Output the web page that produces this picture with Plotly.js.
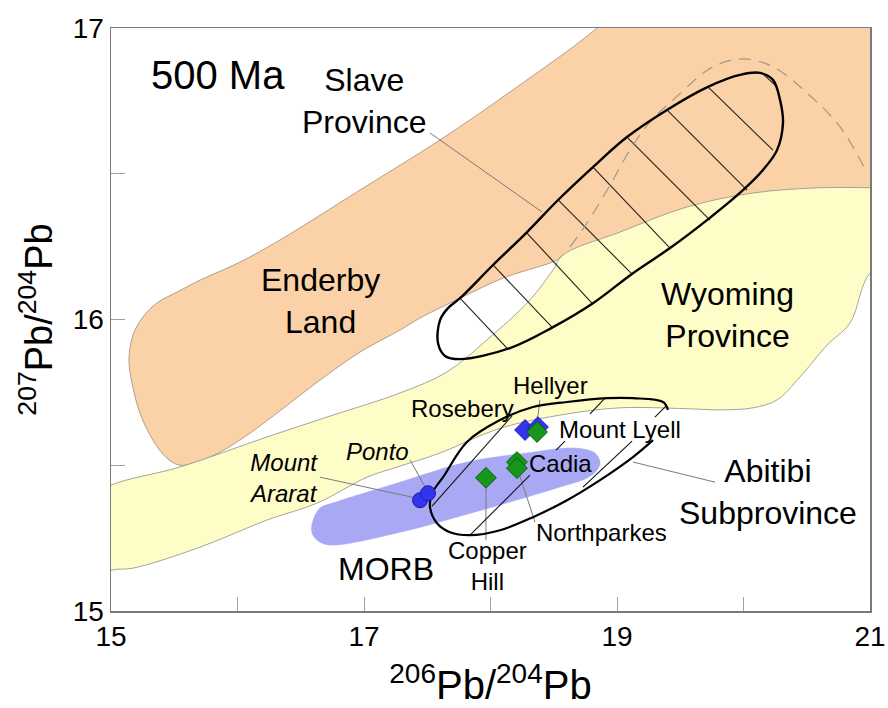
<!DOCTYPE html>
<html>
<head>
<meta charset="utf-8">
<script src="https://cdn.plot.ly/plotly-3.0.1.min.js"></script>
<style>html,body{margin:0;padding:0;background:#fff;}#chart{width:888px;height:708px;}</style>
</head>
<body>
<div id="chart"></div>
<script>
// ---- Region outlines (206Pb/204Pb, 207Pb/204Pb) ----
const enderbyX = [15.545,15.443,15.332,15.229,15.166,15.142,15.174,15.253,15.364,15.522,15.704,16.020,16.336,16.968,17.601,18.178,18.842,19.2,21.3,21.3,20.6,20.0,19.5,19.0,18.7,18.573,18.526,18.099,17.759,17.443,17.285,16.968,16.652,16.312,16.075,15.862,15.680,15.545];
const enderbyY = [15.500,15.524,15.586,15.679,15.782,15.861,15.947,16.009,16.057,16.094,16.135,16.197,16.273,16.444,16.616,16.788,17.000,17.15,17.15,16.35,16.38,16.36,16.30,16.22,16.17,16.221,16.204,16.142,16.073,16.005,15.964,15.888,15.792,15.679,15.603,15.545,15.511,15.500];

const wyomingX = [14.8,15.0,15.545,16.233,16.755,17.285,17.656,17.972,18.312,18.494,18.573,19.024,19.553,20.075,20.605,21.0,21.25,21.25,21.0,20.842,20.660,20.447,20.265,20.075,19.814,19.553,19.024,18.605,18.075,17.601,17.285,17.024,16.628,16.233,15.704,15.174,15.0,14.8,14.8];
const wyomingY = [15.38,15.432,15.494,15.597,15.672,15.748,15.820,15.930,16.067,16.170,16.221,16.300,16.386,16.434,16.452,16.452,16.45,16.22,16.160,15.988,15.912,15.803,15.724,15.697,15.690,15.694,15.697,15.676,15.627,15.542,15.497,15.459,15.370,15.312,15.219,15.147,15.140,15.10,15.38];

const morbX = [16.597,16.652,16.771,17.285,17.814,18.336,18.605,18.747,18.826,18.866,18.842,18.763,18.549,18.336,17.814,17.285,16.755,16.652,16.589,16.597];
const morbY = [15.311,15.353,15.373,15.442,15.511,15.545,15.559,15.555,15.542,15.511,15.483,15.456,15.425,15.397,15.332,15.270,15.226,15.236,15.267,15.311];

const slaveX = [18.154,17.759,17.640,17.585,17.601,17.664,17.759,18.020,18.289,18.534,18.810,19.079,19.395,19.719,19.972,20.130,20.233,20.289,20.312,20.265,20.154,19.996,19.711,19.419,19.126,18.810,18.494,18.154];
const slaveY = [15.902,15.864,15.875,15.919,15.998,16.039,16.073,16.187,16.300,16.410,16.523,16.626,16.719,16.798,16.839,16.846,16.822,16.753,16.674,16.581,16.513,16.444,16.341,16.245,16.159,16.056,15.974,15.902];

const slaveHatchX = [17.759,18.138,null,18.020,18.486,null,18.281,18.802,null,18.534,19.119,null,18.810,19.419,null,19.079,19.735,null,19.395,20.028,null,19.719,20.233,null,20.146,20.265];
const slaveHatchY = [16.073,15.898,null,16.187,15.974,null,16.300,16.056,null,16.410,16.156,null,16.523,16.245,null,16.626,16.341,null,16.719,16.444,null,16.798,16.581,null,16.846,16.798];

const slaveDashX = [18.628,18.763,18.945,19.103,19.261,19.443,19.759,19.996,20.233,20.502,20.763,20.976];
const slaveDashY = [16.248,16.331,16.461,16.582,16.678,16.753,16.867,16.894,16.867,16.777,16.661,16.503];

const abitibiX = [19.285,19.126,18.866,18.605,18.336,18.075,17.838,17.680,17.577,17.522,17.538,17.625,17.814,18.075,18.336,18.605,18.921,19.126,19.364,19.403];
const abitibiY = [15.586,15.528,15.449,15.380,15.322,15.277,15.260,15.270,15.301,15.356,15.404,15.459,15.580,15.655,15.700,15.717,15.730,15.730,15.717,15.690];

const abitibiHatchX = [17.538,18.170,null,17.838,18.312,null,18.518,18.589,null,18.787,18.905,null,18.731,19.119,null,19.300,19.395];
const abitibiHatchY = [15.360,15.669,null,15.260,15.466,null,15.552,15.583,null,15.676,15.730,null,15.425,15.583,null,15.665,15.706];

// leader lines: label -> feature
const leaderX = [17.522,18.407,null,19.126,19.775,null,16.652,17.419,null,17.364,17.498,null,18.391,18.368,null,17.964,17.964,null,18.217,18.352];
const leaderY = [16.640,16.369,null,15.511,15.442,null,15.459,15.387,null,15.518,15.414,null,15.724,15.645,null,15.425,15.243,null,15.483,15.305];

// ---- Deposits (Mount Ararat, Ponto | Rosebery, Hellyer | Mount Lyell, Cadia, Northparkes, Copper Hill) ----
const circleX = [17.443,17.506];
const circleY = [15.380,15.404];

const blueDiamondX = [18.273,18.375];
const blueDiamondY = [15.621,15.631];

const greenDiamondX = [18.368,18.209,18.209,17.964];
const greenDiamondY = [15.614,15.511,15.490,15.457];

// ---- Labels ----
const bigLabels = ['500 Ma','Slave<br>Province','Enderby<br>Land','Wyoming<br>Province','Abitibi<br>Subprovince','MORB'];
const bigLabelX = [15.846,17.0,16.660,19.877,20.194,17.174];
const bigLabelY = [16.840,16.750,16.063,16.015,15.408,15.143];
const bigLabelSize = [40,32,32,32,32,32];

const smallLabels = ['Hellyer','Rosebery','Mount Lyell','Cadia','Northparkes','Copper<br>Hill','<i>Ponto</i>','<i>Mount<br>Ararat</i>'];
const smallLabelX = [18.478,17.775,19.024,18.557,18.874,17.980,17.103,16.360];
const smallLabelY = [15.775,15.696,15.624,15.507,15.270,15.153,15.548,15.456];

const xMajorTicks = [15,17,19,21];
const xMinorTicks = [16,18,20];
const yMajorTicks = [15,16,17];
const yMinorTicks = [15.5,16.5];

const FONT = 'Liberation Sans, Arial, sans-serif';

const traces = [
  {x: enderbyX, y: enderbyY, mode:'lines', fill:'toself', fillcolor:'#fbd1a7',
   line:{color:'#a89580', width:0.9, shape:'spline', smoothing:1}, hoverinfo:'skip'},
  {x: wyomingX, y: wyomingY, mode:'lines', fill:'toself', fillcolor:'#fefdc8',
   line:{color:'#9a9a90', width:0.9, shape:'spline', smoothing:1}, hoverinfo:'skip'},
  {x: morbX, y: morbY, mode:'lines', fill:'toself', fillcolor:'#a8a8f4',
   line:{color:'#a8a8f4', width:0.5, shape:'spline', smoothing:1}, hoverinfo:'skip'},
  {x: slaveHatchX, y: slaveHatchY, mode:'lines', line:{color:'#222', width:1.1}, hoverinfo:'skip'},
  {x: slaveDashX, y: slaveDashY, mode:'lines', line:{color:'#a09890', width:1.2, dash:'12px,8px', shape:'spline'}, hoverinfo:'skip'},
  {x: slaveX, y: slaveY, mode:'lines', line:{color:'#000', width:2.4, shape:'spline', smoothing:1}, hoverinfo:'skip'},
  {x: leaderX, y: leaderY, mode:'lines', line:{color:'#7a7a7a', width:1}, hoverinfo:'skip'},
  {x: abitibiHatchX, y: abitibiHatchY, mode:'lines', line:{color:'#111', width:1.1}, hoverinfo:'skip'},
  {x: abitibiX, y: abitibiY, mode:'lines', line:{color:'#000', width:2.2, shape:'spline', smoothing:1}, hoverinfo:'skip'},
  {x: circleX, y: circleY, mode:'markers',
   marker:{symbol:'circle', size:15, color:'#3434f0', line:{color:'#1c1ca8', width:1}}},
  {x: blueDiamondX, y: blueDiamondY, mode:'markers',
   marker:{symbol:'diamond', size:16, color:'#3434f0', line:{color:'#1c1ca8', width:1}}},
  {x: greenDiamondX, y: greenDiamondY, mode:'markers',
   marker:{symbol:'diamond', size:16, color:'#16961a', line:{color:'#0b5a0d', width:1}}}
];

const annotations = [];
bigLabels.forEach((t,i)=>annotations.push({x:bigLabelX[i], y:bigLabelY[i], text:t, showarrow:false,
  xanchor:'center', yanchor:'middle', font:{family:FONT, size:bigLabelSize[i], color:'#000'}}));
smallLabels.forEach((t,i)=>annotations.push({x:smallLabelX[i], y:smallLabelY[i], text:t, showarrow:false,
  xanchor:'center', yanchor:'middle', font:{family:FONT, size:24, color:'#000'}}));

function axis(range, major, minor, titleText, titleSize, standoff) {
  return {
    range: range,
    showgrid:false, zeroline:false, showline:true, linecolor:'#7a7a7a', linewidth:1.5, mirror:true,
    ticks:'inside', ticklen:14, tickwidth:1, tickcolor:'#a0a0a0',
    tickfont:{family:FONT, size:28, color:'#000'},
    tickmode:'array', tickvals: major, ticktext: major.map(String),
    minor:{tickmode:'array', tickvals: minor, ticks:'inside', ticklen:14, tickwidth:1, tickcolor:'#a0a0a0', showgrid:false},
    title:{text:titleText, font:{family:FONT, size:titleSize, color:'#000'}, standoff: standoff}
  };
}

const layout = {
  width:888, height:708,
  margin:{l:111, r:18, t:28, b:97},
  paper_bgcolor:'#fff', plot_bgcolor:'#fff',
  showlegend:false,
  font:{family:FONT},
  xaxis: axis([15,21], xMajorTicks, xMinorTicks, '<sup>206</sup>Pb/<sup>204</sup>Pb', 40, 20),
  yaxis: axis([15,17], yMajorTicks, yMinorTicks, '<sup>207</sup>Pb/<sup>204</sup>Pb', 38, 8),
  annotations: annotations
};

Plotly.newPlot('chart', traces, layout, {displayModeBar:false, staticPlot:true});
</script>
</body>
</html>
